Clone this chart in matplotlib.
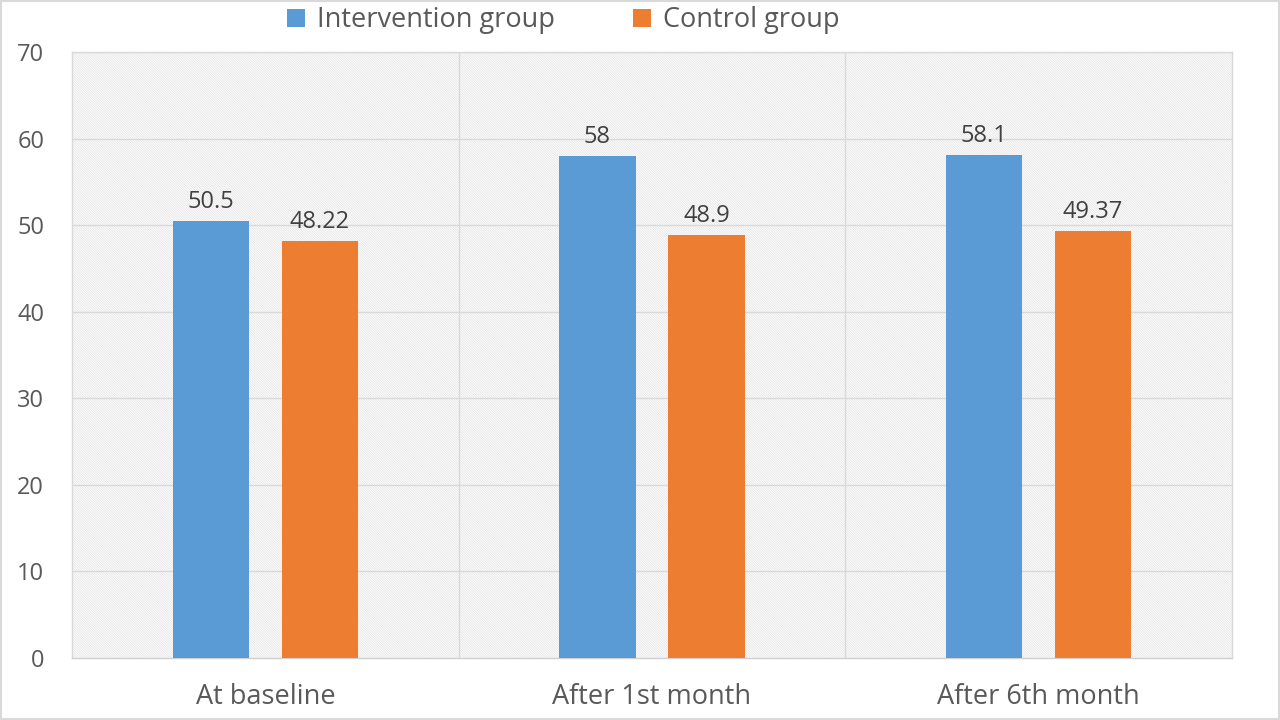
import matplotlib
matplotlib.use("Agg")
import matplotlib.pyplot as plt
from matplotlib.patches import Rectangle, Patch
import numpy as np

categories = ["At baseline", "After 1st month", "After 6th month"]
intervention = [50.5, 58, 58.1]
control = [48.22, 48.9, 49.37]
intervention_labels = ["50.5", "58", "58.1"]
control_labels = ["48.22", "48.9", "49.37"]
series_names = ["Intervention group", "Control group"]
yticks = [0, 10, 20, 30, 40, 50, 60, 70]

BLUE = "#5B9BD5"
ORANGE = "#ED7D31"
GRID = "#D9D9D9"
TXT = "#595959"
LBL = "#404040"

plt.rcParams['font.family'] = ['Open Sans', 'DejaVu Sans']
plt.rcParams['hatch.linewidth'] = 0.5

fig = plt.figure(figsize=(12.8, 7.2), dpi=100)
ax = fig.add_axes([72/1280, 1-658/720, (1232-72)/1280, (658-52)/720])

# hatched background
bg = Rectangle((0, 0), 1, 1, transform=ax.transAxes, facecolor="white",
               edgecolor="#E0E0E0", hatch="\\" * 14, linewidth=0, zorder=0)
ax.add_patch(bg)

x = np.arange(len(categories))
w = 0.197
off = 0.141
b1 = ax.bar(x - off, intervention, w, color=BLUE, zorder=3)
b2 = ax.bar(x + off, control, w, color=ORANGE, zorder=3)

for rect, lab in zip(b1, intervention_labels):
    ax.annotate(lab, (rect.get_x() + rect.get_width()/2, rect.get_height()),
                xytext=(0, 5), textcoords="offset points", ha="center", va="bottom",
                fontsize=17, color=LBL, zorder=4)
for rect, lab in zip(b2, control_labels):
    ax.annotate(lab, (rect.get_x() + rect.get_width()/2, rect.get_height()),
                xytext=(0, 5), textcoords="offset points", ha="center", va="bottom",
                fontsize=17, color=LBL, zorder=4)

ax.set_xlim(-0.5, len(categories) - 0.5)
ax.set_ylim(0, 70)
ax.set_yticks(yticks)
ax.set_yticklabels([str(t) for t in yticks])
ax.set_xticks(x)
ax.set_xticklabels(categories)
ax.tick_params(axis="y", length=0, pad=20, labelsize=17, labelcolor=TXT)
ax.tick_params(axis="x", length=0, pad=18, labelsize=19.5, labelcolor=TXT)

for t in yticks[1:]:
    ax.axhline(t, color=GRID, linewidth=1, zorder=1)
for xv in np.arange(0.5, len(categories) - 0.5, 1):
    ax.axvline(xv, color=GRID, linewidth=1, zorder=1)

for s in ["left", "right", "top"]:
    ax.spines[s].set_color(GRID)
    ax.spines[s].set_linewidth(1)
ax.spines["bottom"].set_color("#D0D0D0")
ax.spines["bottom"].set_linewidth(1)

handles = [Patch(facecolor=BLUE), Patch(facecolor=ORANGE)]
fig.legend(handles, series_names, loc="center", bbox_to_anchor=(0.44, 0.972),
           ncol=2, frameon=False, fontsize=19.5, labelcolor=TXT,
           handlelength=0.65, handleheight=0.65, handletextpad=0.45, columnspacing=2.9)

# figure border
fig.add_artist(Rectangle((0.0008, 0.0014), 0.9984, 0.9972, transform=fig.transFigure,
                         fill=False, edgecolor=GRID, linewidth=1.5))

fig.savefig("out.png", dpi=100)
